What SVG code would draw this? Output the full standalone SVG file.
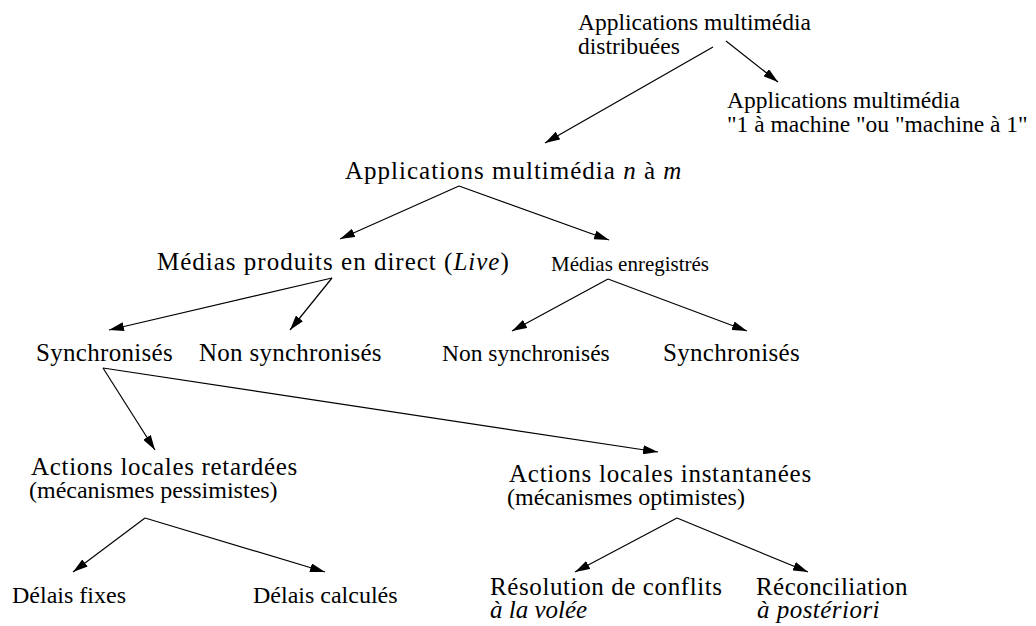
<svg xmlns="http://www.w3.org/2000/svg" width="1036" height="626" viewBox="0 0 1036 626">
<defs>
<marker id="ah" markerUnits="userSpaceOnUse" markerWidth="15" markerHeight="9" refX="15" refY="4.5" orient="auto">
<path d="M0,0 L15,4.5 L0,9 z" fill="#000"/>
</marker>
</defs>
<rect width="1036" height="626" fill="#fff"/>
<g id="connectors" stroke="#000" stroke-width="1.2" fill="none" marker-end="url(#ah)">
<line x1="713" y1="47" x2="545" y2="143"/>
<line x1="726" y1="41" x2="778" y2="82"/>
<line x1="459" y1="186" x2="340" y2="239"/>
<line x1="459" y1="186" x2="609" y2="240"/>
<line x1="332" y1="278" x2="109" y2="330"/>
<line x1="332" y1="278" x2="290" y2="330"/>
<line x1="608" y1="279" x2="512" y2="331"/>
<line x1="608" y1="279" x2="747" y2="331"/>
<line x1="103" y1="368" x2="155" y2="450"/>
<line x1="103" y1="368" x2="658" y2="452"/>
<line x1="145" y1="518" x2="73" y2="572"/>
<line x1="145" y1="518" x2="325" y2="572"/>
<line x1="677" y1="518" x2="575" y2="572"/>
<line x1="677" y1="518" x2="808" y2="572"/>
</g>
<g id="n-distrib">
<text font-family="Liberation Serif" font-size="23.5" x="578" y="30">Applications multimédia</text>
<text font-family="Liberation Serif" font-size="23.5" x="578" y="54">distribuées</text>
</g>
<g id="n-1m">
<text font-family="Liberation Serif" font-size="23.5" x="727" y="108">Applications multimédia</text>
<text font-family="Liberation Serif" font-size="23.5" x="727" y="132">"1 à machine "ou "machine à 1"</text>
</g>
<g id="n-nm">
<text font-family="Liberation Serif" font-size="25" letter-spacing="1" x="345" y="179">Applications multimédia <tspan font-style="italic">n</tspan> à <tspan font-style="italic">m</tspan></text>
</g>
<g id="n-live">
<text font-family="Liberation Serif" font-size="25" letter-spacing="1" x="157" y="270">Médias produits en direct (<tspan font-style="italic">Live</tspan>)</text>
</g>
<g id="n-enreg">
<text font-family="Liberation Serif" font-size="21" x="551" y="271">Médias enregistrés</text>
</g>
<g id="n-sync1">
<text font-family="Liberation Serif" font-size="25" letter-spacing="0.3" x="36" y="361">Synchronisés</text>
</g>
<g id="n-nonsync1">
<text font-family="Liberation Serif" font-size="25" letter-spacing="0.27" x="199" y="361">Non synchronisés</text>
</g>
<g id="n-nonsync2">
<text font-family="Liberation Serif" font-size="23.5" x="442" y="361">Non synchronisés</text>
</g>
<g id="n-sync2">
<text font-family="Liberation Serif" font-size="25" letter-spacing="0.3" x="663" y="361">Synchronisés</text>
</g>
<g id="n-retard">
<text font-family="Liberation Serif" font-size="25" letter-spacing="0.68" x="31" y="475">Actions locales retardées</text>
<text font-family="Liberation Serif" font-size="24" x="29" y="498">(mécanismes pessimistes)</text>
</g>
<g id="n-instant">
<text font-family="Liberation Serif" font-size="25" letter-spacing="0.75" x="509" y="482">Actions locales instantanées</text>
<text font-family="Liberation Serif" font-size="24" x="507" y="505">(mécanismes optimistes)</text>
</g>
<g id="n-fixes">
<text font-family="Liberation Serif" font-size="24" x="12" y="603">Délais fixes</text>
</g>
<g id="n-calc">
<text font-family="Liberation Serif" font-size="24" x="253" y="603">Délais calculés</text>
</g>
<g id="n-resol">
<text font-family="Liberation Serif" font-size="25" letter-spacing="0.6" x="490" y="595">Résolution de conflits</text>
<text font-family="Liberation Serif" font-size="25" font-style="italic" x="490" y="618">à la volée</text>
</g>
<g id="n-recon">
<text font-family="Liberation Serif" font-size="25" letter-spacing="0.44" x="756" y="595">Réconciliation</text>
<text font-family="Liberation Serif" font-size="25" font-style="italic" letter-spacing="0.47" x="757" y="618">à postériori</text>
</g>
</svg>
